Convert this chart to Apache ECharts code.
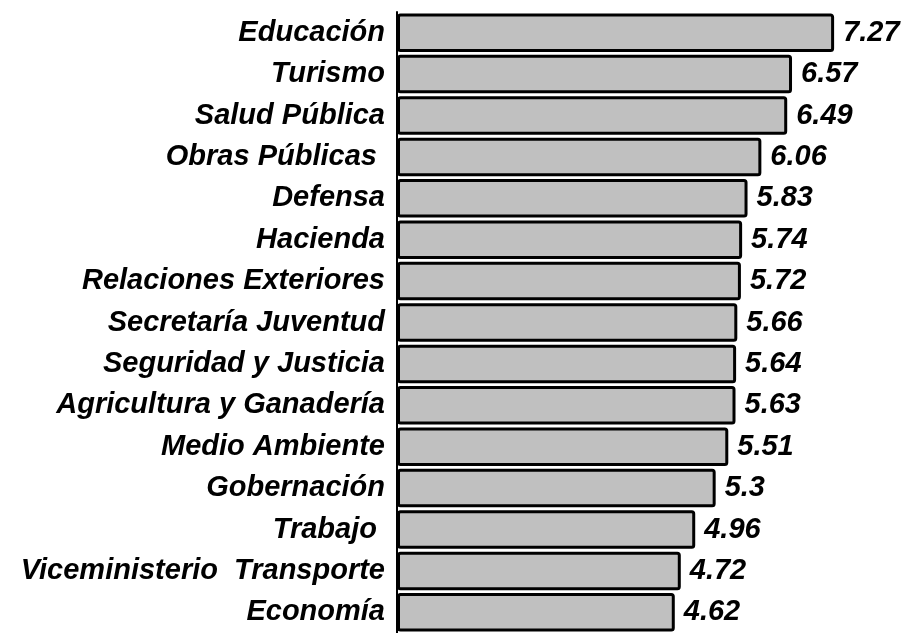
<!DOCTYPE html>
<html>
<head>
<meta charset="utf-8">
<script src="https://cdn.jsdelivr.net/npm/echarts@6/dist/echarts.min.js"></script>
<style>html,body{margin:0;padding:0;background:#fff}#c{width:903px;height:633px}</style>
</head>
<body>
<div id="c"></div>
<script>
var categories = ['Educación','Turismo','Salud Pública','Obras Públicas ','Defensa','Hacienda','Relaciones Exteriores','Secretaría Juventud','Seguridad y Justicia','Agricultura y Ganadería','Medio Ambiente','Gobernación','Trabajo ','Viceministerio  Transporte','Economía'];
var values = [7.27,6.57,6.49,6.06,5.83,5.74,5.72,5.66,5.64,5.63,5.51,5.3,4.96,4.72,4.62];

var chart = echarts.init(document.getElementById('c'), null, {renderer:'canvas'});
var font = {fontFamily:'Liberation Sans, Arial, sans-serif', fontWeight:'bold', fontStyle:'italic', fontSize:29, color:'#000'};
chart.setOption({
  animation:false,
  grid:{left:397, top:12, width:481, height:627, containLabel:false},
  xAxis:{type:'value', min:0, max:8, show:false},
  yAxis:{type:'category', data:categories, inverse:true,
    axisLine:{show:true, lineStyle:{color:'#000', width:2}},
    axisTick:{show:false},
    axisLabel:Object.assign({margin:12, interval:0}, font),
    splitLine:{show:false}
  },
  series:[{type:'bar', data:values, barCategoryGap:'7%',
    itemStyle:{color:'#c0c0c0', borderColor:'#000', borderWidth:3, borderRadius:2},
    label:Object.assign({show:true, position:'right', distance:9}, font)
  }]
});
</script>
</body>
</html>
